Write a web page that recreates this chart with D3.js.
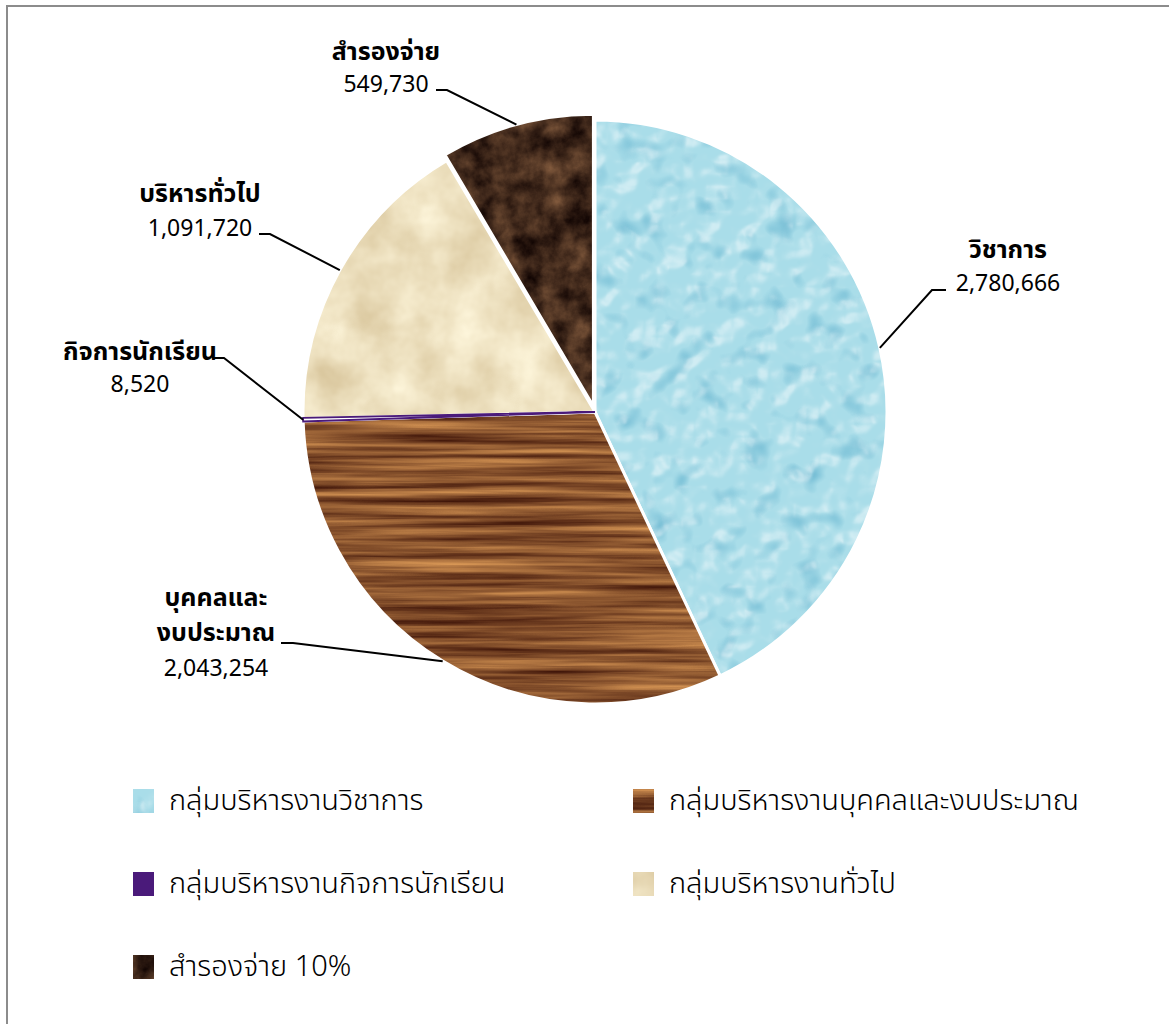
<!DOCTYPE html>
<html><head><meta charset="utf-8">
<script src="https://cdn.jsdelivr.net/npm/d3@7/dist/d3.min.js"></script>
<style>
html,body{margin:0;padding:0;background:#fff;}
svg{display:block;}
.lbl{font-family:"Noto Sans Thai","Tahoma","Noto Sans","DejaVu Sans",sans-serif;fill:#000;}
.leg{font-family:"Noto Sans Thai","Tahoma","Noto Sans","DejaVu Sans",sans-serif;fill:#000;font-weight:300;}
</style></head>
<body>
<svg id="chart" width="1169" height="1024"></svg>
<script>
// ---- data ----
const categories = ["กลุ่มบริหารงานวิชาการ","กลุ่มบริหารงานบุคคลและงบประมาณ","กลุ่มบริหารงานกิจการนักเรียน","กลุ่มบริหารงานทั่วไป","สำรองจ่าย 10%"];
const shortNames = [["วิชาการ"],["บุคคลและ","งบประมาณ"],["กิจการนักเรียน"],["บริหารทั่วไป"],["สำรองจ่าย"]];
const values = [2780666, 2043254, 8520, 1091720, 549730];
const textures = ["water","wood","purple","beige","dark"];

// ---- layout (style only) ----
const cx = 595, cy = 412, R = 292;
const explode = [0, 0, 0, 0, 6];
const labelLayout = [
  {x:1008, y:258, step:33, lead:[[946,290],[932,290]]},
  {x:216, y:606, step:35, lead:[[281,643],[293,643]]},
  {x:140, y:360, step:32, lead:[[213,358],[224,358]]},
  {x:200, y:202, step:34, lead:[[259,234],[270,234]]},
  {x:386, y:60, step:32, lead:[[436,90],[447,90]]}
];

const svg = d3.select("#chart");
const defs = svg.append("defs");

function addFilter(id, build){
  const f = defs.append("filter").attr("id", id)
    .attr("color-interpolation-filters","sRGB")
    .attr("x","0").attr("y","0").attr("width","1").attr("height","1");
  build(f);
}
// water droplets
addFilter("water", f=>{
  f.append("feTurbulence").attr("type","fractalNoise").attr("baseFrequency","0.04").attr("numOctaves",2).attr("seed",11).attr("result","n");
  f.append("feFlood").attr("flood-color","#a9dde9").attr("result","base");
  f.append("feColorMatrix").attr("in","n").attr("type","matrix")
    .attr("values","0 0 0 0 0.42  0 0 0 0 0.72  0 0 0 0 0.82  -2.4 0 0 0 1.12").attr("result","shade");
  const sp = f.append("feSpecularLighting").attr("in","n").attr("surfaceScale",6).attr("specularConstant",0.9)
    .attr("specularExponent",18).attr("lighting-color","#ffffff").attr("result","spec");
  sp.append("feDistantLight").attr("azimuth",235).attr("elevation",40);
  f.append("feComposite").attr("in","spec").attr("in2","n").attr("operator","arithmetic").attr("k1",0).attr("k2",0.5).attr("k3",0).attr("k4",0).attr("result","spec2");
  const m = f.append("feMerge").attr("result","all");
  m.append("feMergeNode").attr("in","base");
  m.append("feMergeNode").attr("in","shade");
  m.append("feMergeNode").attr("in","spec2");
  f.append("feComposite").attr("in","all").attr("in2","SourceGraphic").attr("operator","in");
});
// wood grain
addFilter("wood", f=>{
  f.append("feTurbulence").attr("type","fractalNoise").attr("baseFrequency","0.004 0.14").attr("numOctaves",4).attr("seed",5).attr("result","n");
  f.append("feColorMatrix").attr("in","n").attr("type","matrix")
    .attr("values","0.80 0 0 0 0.14  0.68 0 0 0 -0.01  0.40 0 0 0 -0.02  0 0 0 0 1").attr("result","c");
  f.append("feComposite").attr("in","c").attr("in2","SourceGraphic").attr("operator","in");
});
// beige marble
addFilter("beige", f=>{
  f.append("feTurbulence").attr("type","fractalNoise").attr("baseFrequency","0.02").attr("numOctaves",4).attr("seed",2).attr("result","n");
  f.append("feColorMatrix").attr("in","n").attr("type","matrix")
    .attr("values","0.20 0 0 0 0.83  0.26 0 0 0 0.75  0.34 0 0 0 0.58  0 0 0 0 1").attr("result","c");
  f.append("feComposite").attr("in","c").attr("in2","SourceGraphic").attr("operator","in");
});
// dark marble
addFilter("dark", f=>{
  f.append("feTurbulence").attr("type","fractalNoise").attr("baseFrequency","0.04").attr("numOctaves",5).attr("seed",9).attr("result","n");
  f.append("feColorMatrix").attr("in","n").attr("type","matrix")
    .attr("values","0.62 0 0 0 -0.05  0.47 0 0 0 -0.07  0.32 0 0 0 -0.05  0 0 0 0 1").attr("result","c");
  f.append("feComposite").attr("in","c").attr("in2","SourceGraphic").attr("operator","in");
});
const solid = {water:"#a9dde9", wood:"#8e5c30", purple:"#4a1a7a", beige:"#ecdcbc", dark:"#46301f"};

// frame
svg.append("rect").attr("x",7).attr("y",6).attr("width",1180).attr("height",1040)
  .attr("fill","none").attr("stroke","#8c8c8c").attr("stroke-width",2);

// pie
const pie = d3.pie().sort(null).value(d=>d);
const arcs = pie(values);
const arc = d3.arc().innerRadius(0).outerRadius(R);
const g = svg.append("g").attr("transform",`translate(${cx},${cy})`);

const sg = g.selectAll("g.slice").data(arcs).join("g").attr("class","slice")
  .attr("transform",(d,i)=>{
    const a=(d.startAngle+d.endAngle)/2;
    return `translate(${Math.sin(a)*explode[i]},${-Math.cos(a)*explode[i]})`;
  });
sg.append("path").attr("d",arc)
  .attr("fill",(d,i)=>solid[textures[i]])
  .attr("filter",(d,i)=>textures[i]==="purple"?null:`url(#${textures[i]})`);
sg.append("path").attr("d",arc).attr("fill","none").attr("stroke","#fff").attr("stroke-width",3).attr("stroke-linejoin","miter");
// thin purple wedge kept visible on top of the white separators
g.append("path").datum(arcs[2]).attr("d",d3.arc().innerRadius(0).outerRadius(R).startAngle(d=>d.startAngle-0.002).endAngle(d=>d.endAngle+0.002))
  .attr("fill","none").attr("stroke",solid.purple).attr("stroke-width",1.8);

// leaders + labels
const fmt = d3.format(",");
arcs.forEach((d,i)=>{
  const L = labelLayout[i];
  const a=(d.startAngle+d.endAngle)/2;
  const px = cx + Math.sin(a)*(R+explode[i]), py = cy - Math.cos(a)*(R+explode[i]);
  const pts = L.lead.concat([[px,py]]);
  svg.append("path").attr("d",d3.line()(pts)).attr("fill","none").attr("stroke","#000").attr("stroke-width",2);
  shortNames[i].forEach((s,k)=>{
    svg.append("text").attr("class","lbl").attr("text-anchor","middle")
      .attr("x",L.x).attr("y",L.y+k*L.step).attr("font-weight","bold").attr("font-size",25).text(s);
  });
  svg.append("text").attr("class","lbl").attr("text-anchor","middle").attr("font-size",23)
    .attr("x",L.x).attr("y",L.y+shortNames[i].length*L.step).text(fmt(values[i]));
});

// legend
const legPos = [[133,789],[633,789],[133,872],[633,872],[133,955]];
const lg = svg.append("g");
categories.forEach((c,i)=>{
  const [x,y] = legPos[i];
  lg.append("rect").attr("x",x).attr("y",y).attr("width",21).attr("height",24)
    .attr("fill",solid[textures[i]])
    .attr("filter",textures[i]==="purple"?null:`url(#${textures[i]})`);
  lg.append("text").attr("class","leg").attr("x",x+36).attr("y",y+21).attr("font-size",29).text(c);
});
</script>
</body></html>
